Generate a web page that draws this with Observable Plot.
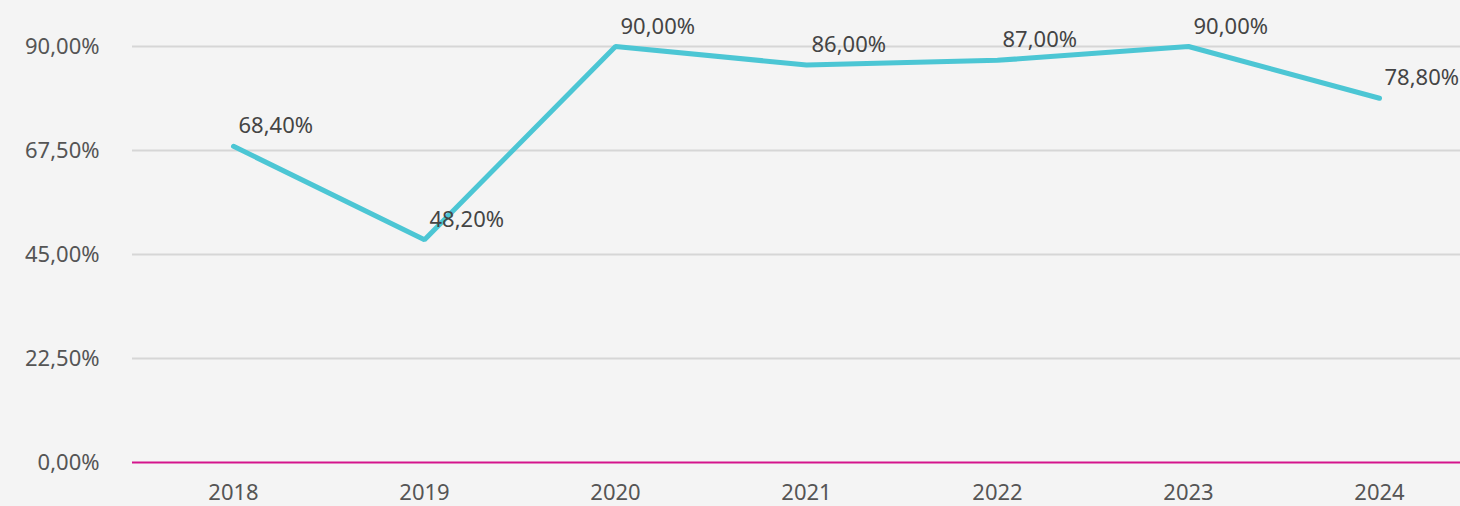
<!DOCTYPE html>
<html>
<head>
<meta charset="utf-8">
<script src="https://cdn.jsdelivr.net/npm/d3@7"></script>
<script src="https://cdn.jsdelivr.net/npm/@observablehq/plot@0.6"></script>
<style>
  html, body { margin: 0; padding: 0; background: #f4f4f4; overflow: hidden; }
  #chart svg { display: block; background: #f4f4f4; }
</style>
</head>
<body>
<div id="chart"></div>
<script>
const years = ["2018", "2019", "2020", "2021", "2022", "2023", "2024"];
const values = [68.4, 48.2, 90.0, 86.0, 87.0, 90.0, 78.8];
const yTicks = [0, 22.5, 45, 67.5, 90];

const data = years.map((year, i) => ({ year, value: values[i] }));
const fmt = v => v.toFixed(2).replace(".", ",") + "%";

const chart = Plot.plot({
  width: 1460,
  height: 506,
  marginLeft: 132,
  marginRight: 0,
  marginTop: 46,
  marginBottom: 44,
  style: { background: "#f4f4f4", fontFamily: "'Noto Sans', sans-serif", overflow: "visible" },
  x: { type: "point", domain: years, range: [231, 1380], padding: 0, label: null },
  y: { domain: [0, 90], label: null },
  marks: [
    Plot.ruleY(yTicks.filter(d => d > 0), { stroke: "#d6d6d6", strokeWidth: 2 }),
    Plot.ruleY([0], { stroke: "#d4148c", strokeWidth: 2 }),
    Plot.axisY(yTicks, {
      tickSize: 0, tickPadding: 33, tickFormat: fmt, fontSize: 22, fill: "#555", label: null
    }),
    Plot.axisX({
      tickSize: 0, tickPadding: 22, fontSize: 22, fill: "#555", label: null
    }),
    Plot.line(data, { x: "year", y: "value", stroke: "#4cc6d4", strokeWidth: 5, strokeLinejoin: "miter" }),
    Plot.text(data, {
      x: "year", y: "value", text: d => fmt(d.value),
      textAnchor: "start", lineAnchor: "bottom", dx: 5, dy: -13,
      fontSize: 22, fill: "#444"
    })
  ]
});
document.getElementById("chart").append(chart);
</script>
</body>
</html>
